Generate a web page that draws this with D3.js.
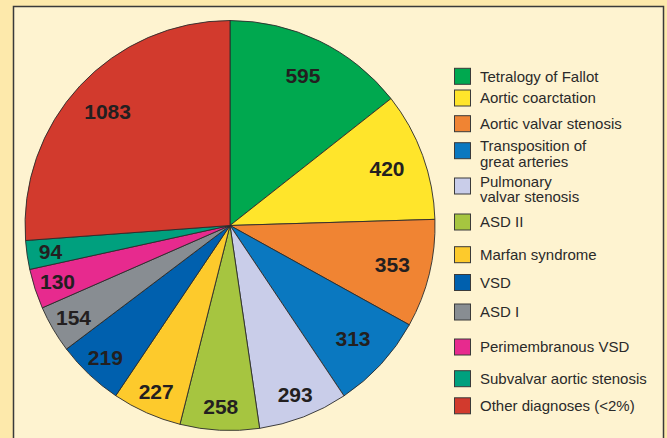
<!DOCTYPE html>
<html>
<head>
<meta charset="utf-8">
<script src="https://cdn.jsdelivr.net/npm/d3@7"></script>
<style>
  html, body { margin: 0; padding: 0; background: #fde9ab; }
  svg { display: block; }
</style>
</head>
<body>
<svg id="chart" width="667" height="438"></svg>
<script>
const categories = [
  "Tetralogy of Fallot", "Aortic coarctation", "Aortic valvar stenosis",
  "Transposition of great arteries", "Pulmonary valvar stenosis", "ASD II",
  "Marfan syndrome", "VSD", "ASD I", "Perimembranous VSD",
  "Subvalvar aortic stenosis", "Other diagnoses (<2%)"
];
const legendLines = [
  ["Tetralogy of Fallot"], ["Aortic coarctation"], ["Aortic valvar stenosis"],
  ["Transposition of", "great arteries"], ["Pulmonary", "valvar stenosis"], ["ASD II"],
  ["Marfan syndrome"], ["VSD"], ["ASD I"], ["Perimembranous VSD"],
  ["Subvalvar aortic stenosis"], ["Other diagnoses (<2%)"]
];
const values = [595, 420, 353, 313, 293, 258, 227, 219, 154, 130, 94, 1083];
const colors = [
  "#00a84f", "#ffe52b", "#f08433", "#0a78c0", "#c9cde9", "#a6c540",
  "#fdca2c", "#0060ae", "#888d92", "#e72a8e", "#00a07e", "#d23a2d"
];

const svg = d3.select("#chart");
const W = 667, H = 438;

// panel
svg.append("rect")
  .attr("x", 13.5).attr("y", 6.5)
  .attr("width", 650).attr("height", 450)
  .attr("fill", "#fef3d0")
  .attr("stroke", "#3a3a3a").attr("stroke-width", 1.5);

const cx = 230, cy = 225.5, R = 205;
const data = categories.map((c, i) => ({ cat: c, value: values[i], color: colors[i], lines: legendLines[i] }));

const pie = d3.pie().value(d => d.value).sort(null);
const arcs = pie(data);
const arc = d3.arc().innerRadius(0).outerRadius(R);

const g = svg.append("g").attr("transform", `translate(${cx},${cy})`);
g.selectAll("path.slice").data(arcs).enter().append("path")
  .attr("class", "slice")
  .attr("d", arc)
  .attr("fill", d => d.data.color)
  .attr("stroke", "#2b2b2b").attr("stroke-width", 0.9)
  .attr("stroke-linejoin", "round");

const labelR = d => R * ((d.endAngle - d.startAngle) > 0.45 ? 0.815 : 0.885);
g.selectAll("text.val").data(arcs).enter().append("text")
  .attr("class", "val")
  .attr("transform", d => {
    const a = (d.startAngle + d.endAngle) / 2;
    const r = labelR(d);
    return `translate(${r * Math.sin(a)},${-r * Math.cos(a)})`;
  })
  .attr("text-anchor", "middle")
  .attr("dy", "0.36em")
  .style("font-family", "'Liberation Sans', Arial, sans-serif")
  .style("font-weight", "bold")
  .style("font-size", "21px")
  .attr("fill", "#231f20")
  .text(d => d.data.value);

// legend
const legendY = d3.scalePoint().domain(categories).range([76.3, 405.8]);
const swatchCenters = [76.3, 98, 123.7, 150.7, 186, 222, 254.7, 282.5, 312, 347, 378.7, 405.8];
// y scale via categories index mapped through an ordinal scale of legend rows
const rowY = d3.scaleOrdinal().domain(categories).range(swatchCenters);

const lg = svg.append("g");
const items = lg.selectAll("g.item").data(data).enter().append("g")
  .attr("class", "item")
  .attr("transform", d => `translate(454.5,${rowY(d.cat)})`);

items.append("rect")
  .attr("x", 0).attr("y", -8)
  .attr("width", 16).attr("height", 16)
  .attr("fill", d => d.color)
  .attr("stroke", "#3a3a3a").attr("stroke-width", 1);

items.append("text")
  .attr("x", 25.5)
  .style("font-family", "'Liberation Sans', Arial, sans-serif")
  .style("font-size", "15px")
  .attr("fill", "#2a2a2a")
  .each(function(d) {
    const t = d3.select(this);
    if (d.lines.length === 1) {
      t.append("tspan").attr("x", 25.5).attr("y", 5.2).text(d.lines[0]);
    } else {
      d.lines.forEach((l, j) => {
        t.append("tspan").attr("x", 25.5).attr("y", 0.5 + j * 15.5).text(l);
      });
    }
  });
</script>
</body>
</html>
